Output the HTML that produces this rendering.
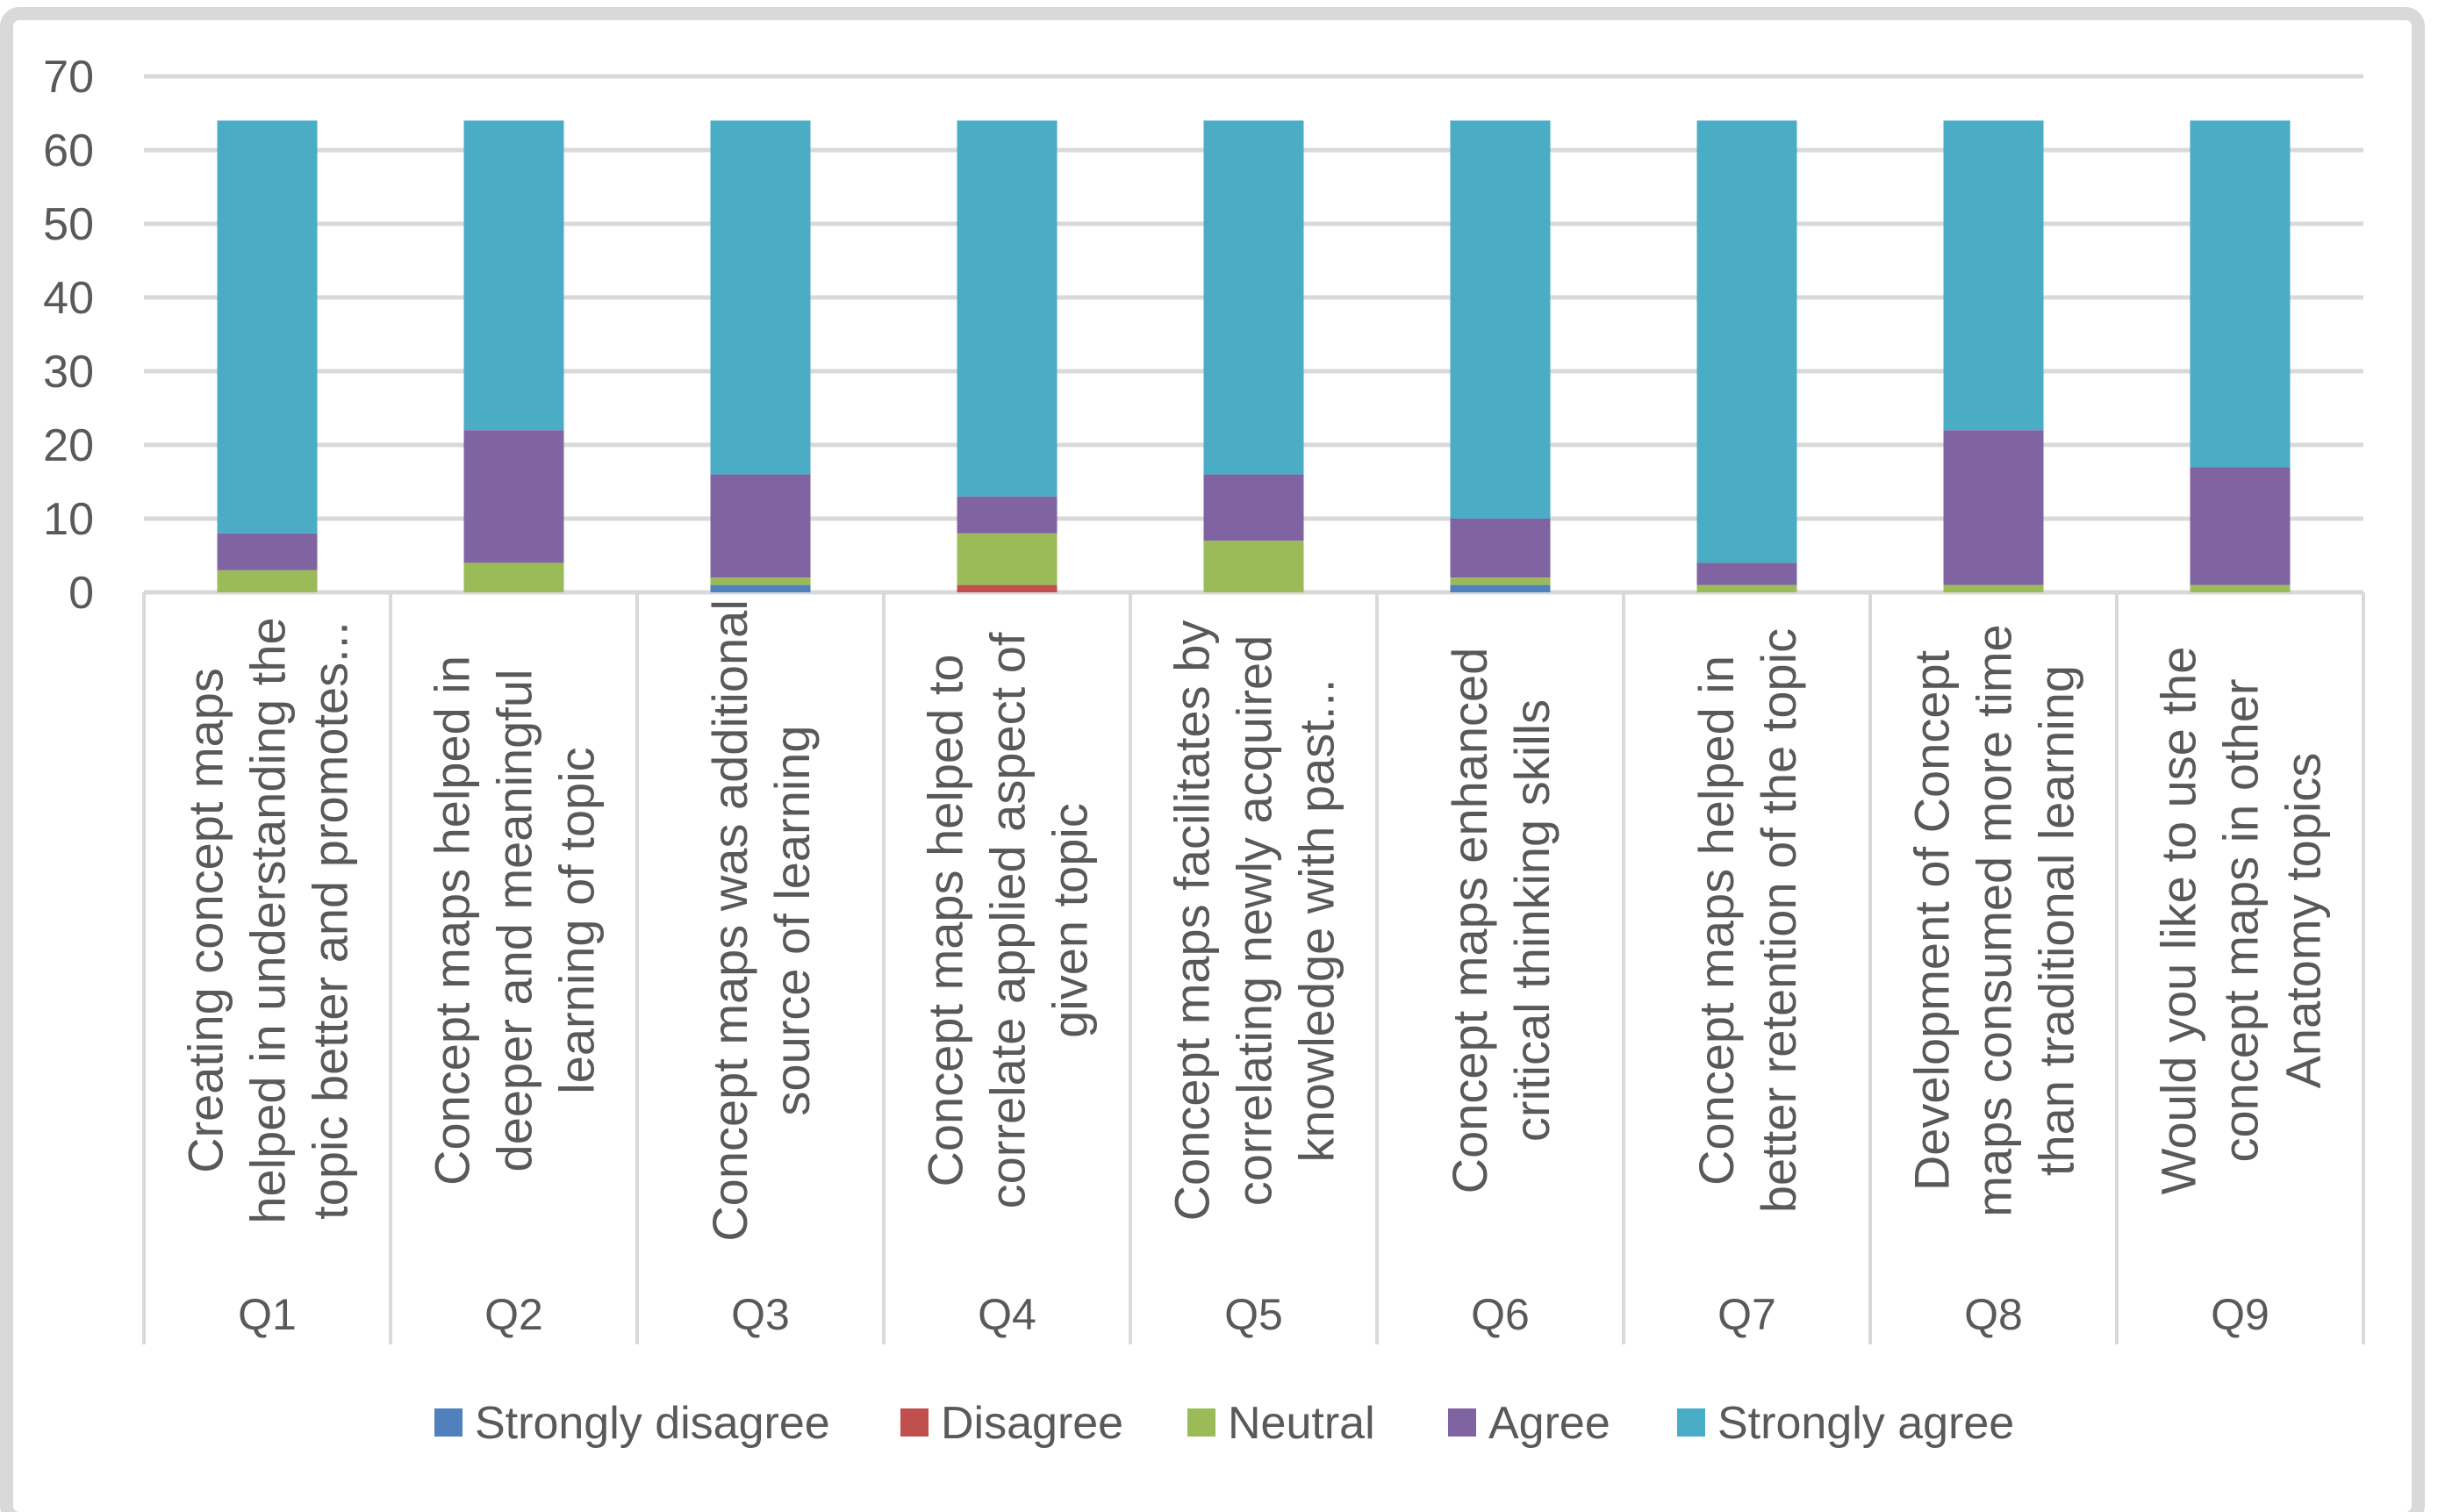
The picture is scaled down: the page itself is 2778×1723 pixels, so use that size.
<!DOCTYPE html>
<html><head><meta charset="utf-8"><style>
html,body{margin:0;padding:0;background:#fff;}
#wrap{position:relative;width:2778px;height:1723px;overflow:hidden;background:#fff;}
#frame{position:absolute;left:0;top:8px;width:2733px;height:1700px;border:15px solid #d9d9d9;border-radius:22px;}
svg{position:absolute;left:0;top:0;}
text{font-family:"Liberation Sans",sans-serif;fill:#595959;}
</style></head><body>
<div id="wrap">
<div id="frame"></div>
<svg id="chart" width="2778" height="1723"></svg>
</div>
<script>
const categories=["Q1","Q2","Q3","Q4","Q5","Q6","Q7","Q8","Q9"];
const catLabels=[
["Creating concept maps","helped in understanding the","topic better and promotes..."],
["Concept maps helped in","deeper and meaningful","learning of topic"],
["Concept maps was additional","source of learning"],
["Concept maps helped to","correlate applied aspect of","given topic"],
["Concept maps facilitates by","correlating newly acquired","knowledge with past..."],
["Concept maps enhanced","critical thinking skills"],
["Concept maps helped in","better retention of the topic"],
["Development of Concept","maps consumed more time","than traditional learning"],
["Would you like to use the","concept maps in other","Anatomy topics"]];
const seriesNames=["Strongly disagree","Disagree","Neutral","Agree","Strongly agree"];
const stronglyDisagree=[0,0,1,0,0,1,0,0,0];
const disagree=[0,0,0,1,0,0,0,0,0];
const neutral=[3,4,1,7,7,1,1,1,1];
const agree=[5,18,14,5,9,8,3,21,16];
const stronglyAgree=[56,42,48,51,48,54,60,42,47];
const yTicks=[0,10,20,30,40,50,60,70];
const colors=["#4f81bd","#c0504d","#9bbb59","#8064a2","#4bacc6"];
const series=[stronglyDisagree,disagree,neutral,agree,stronglyAgree];

const NS="http://www.w3.org/2000/svg";
const svg=document.getElementById('chart');
const X0=164,X1=2693,Y0=675,YTOP=87,YMAX=70;
const cw=(X1-X0)/categories.length;
const y=v=>Y0-(v/YMAX)*(Y0-YTOP);
const xc=i=>X0+cw*(i+0.5);
function mk(t,a){const e=document.createElementNS(NS,t);for(const k in a)e.setAttribute(k,a[k]);svg.appendChild(e);return e;}

yTicks.forEach(t=>{
  const g=mk('line',{x1:X0,x2:X1,y1:y(t),y2:y(t),stroke:'#d9d9d9','stroke-width':5});
  
  
  const tx=mk('text',{x:107,y:y(t)+18,'font-size':52,'text-anchor':'end'});
  tx.textContent=t;
  
  
});
for(let i=0;i<=categories.length;i++){
  const sx=X0+cw*i;
  const l=mk('line',{x1:sx,x2:sx,y1:Y0,y2:1532,stroke:'#d9d9d9','stroke-width':4});
  
  
}
const bw=114;
categories.forEach((c,i)=>{
  let cum=0;
  series.forEach((s,k)=>{
    const v=s[i];
    if(v>0){
      const r=mk('rect',{x:xc(i)-bw/2,y:y(cum+v),width:bw,height:y(cum)-y(cum+v),fill:colors[k]});
      
      
    }
    cum+=v;
  });
  const lines=catLabels[i];
  const lh=71;
  const g=document.createElementNS(NS,'g');
  g.setAttribute('transform','translate('+xc(i)+',1049) rotate(-90)');
  
  
  svg.appendChild(g);
  lines.forEach((ln,j)=>{
    const t=document.createElementNS(NS,'text');
    t.setAttribute('x',0);
    t.setAttribute('y',(j-(lines.length-1)/2)*lh+20);
    t.setAttribute('font-size',56);
    t.setAttribute('text-anchor','middle');
    t.textContent=ln;
    g.appendChild(t);
  });
  const q=mk('text',{x:xc(i),y:1515,'font-size':50,'text-anchor':'middle'});
  q.textContent=c;
  
  
});
const legX=[495,1026,1353,1650,1911];
seriesNames.forEach((n,k)=>{
  const r=mk('rect',{x:legX[k],y:1605,width:32,height:32,fill:colors[k]});
  
  
  const t=mk('text',{x:legX[k]+46,y:1639,'font-size':52});
  t.textContent=n;
  
  
});
</script>
</body></html>
